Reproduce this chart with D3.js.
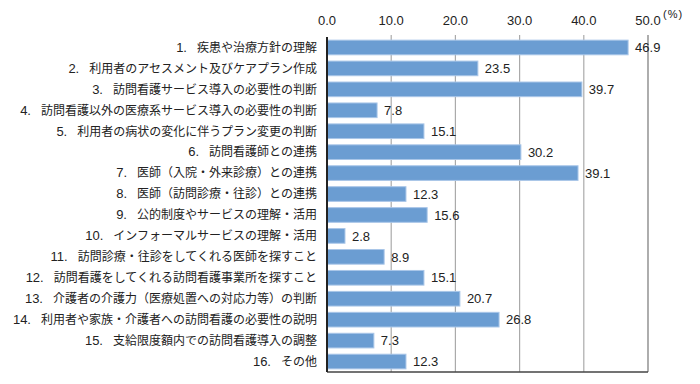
<!DOCTYPE html>
<html>
<head>
<meta charset="utf-8">
<script src="https://cdn.jsdelivr.net/npm/d3@7"></script>
<style>
	body { margin: 0; background: #fff; }
	text { font-family: "Liberation Sans", "Noto Sans CJK JP", sans-serif; fill: #222; }
</style>
</head>
<body>
<div id="chart"></div>
<script>
const categories = [
	'1. 疾患や治療方針の理解',
	'2. 利用者のアセスメント及びケアプラン作成',
	'3. 訪問看護サービス導入の必要性の判断',
	'4. 訪問看護以外の医療系サービス導入の必要性の判断',
	'5. 利用者の病状の変化に伴うプラン変更の判断',
	'6. 訪問看護師との連携',
	'7. 医師（入院・外来診療）との連携',
	'8. 医師（訪問診療・往診）との連携',
	'9. 公的制度やサービスの理解・活用',
	'10. インフォーマルサービスの理解・活用',
	'11. 訪問診療・往診をしてくれる医師を探すこと',
	'12. 訪問看護をしてくれる訪問看護事業所を探すこと',
	'13. 介護者の介護力（医療処置への対応力等）の判断',
	'14. 利用者や家族・介護者への訪問看護の必要性の説明',
	'15. 支給限度額内での訪問看護導入の調整',
	'16. その他'
]
const values = [46.9, 23.5, 39.7, 7.8, 15.1, 30.2, 39.1, 12.3, 15.6, 2.8, 8.9, 15.1, 20.7, 26.8, 7.3, 12.3]
const ticks = [0, 10, 20, 30, 40, 50]

const width = 700
const height = 384
const margin = { top: 37, left: 327, right: 52, bottom: 12 }
const chartWidth = width - margin.left - margin.right
const chartHeight = height - margin.top - margin.bottom

const svg = d3.select('#chart')
	.append('svg')
	.attr('width', width)
	.attr('height', height)

const chart = svg.append('g')
	.attr('transform', `translate(${margin.left},${margin.top})`)

const x = d3.scaleLinear().domain([0, 50]).range([0, chartWidth])
const y = d3.scaleBand().domain(categories).range([0, chartHeight]).paddingInner(0.3).paddingOuter(0.15)

// gridlines
chart.selectAll('.grid')
	.data(ticks.slice(1))
	.enter()
	.append('line')
	.attr('class', 'grid')
	.attr('x1', d => x(d))
	.attr('x2', d => x(d))
	.attr('y1', -2)
	.attr('y2', chartHeight)
	.attr('stroke', d => d === 50 ? '#777' : '#aaa')
	.attr('stroke-width', 1.2)

// tick labels
chart.selectAll('.tick-label')
	.data(ticks)
	.enter()
	.append('text')
	.attr('class', 'tick-label')
	.attr('x', d => x(d))
	.attr('y', -12)
	.attr('text-anchor', 'middle')
	.attr('font-size', 13)
	.text(d => d.toFixed(1))

chart.append('text')
	.attr('x', x(50) + 15)
	.attr('y', -19)
	.attr('font-size', 11)
	.attr('letter-spacing', 1)
	.text('(%)')

// bars
chart.selectAll('.bar')
	.data(values)
	.enter()
	.append('rect')
	.attr('class', 'bar')
	.attr('x', 0)
	.attr('y', (d, i) => y(categories[i]))
	.attr('width', d => x(d))
	.attr('height', y.bandwidth())
	.attr('fill', '#6b9dd2')
	.attr('stroke', '#a9c6e8')
	.attr('stroke-width', 1)

// value labels
chart.selectAll('.value')
	.data(values)
	.enter()
	.append('text')
	.attr('class', 'value')
	.attr('x', d => x(d) + 7)
	.attr('y', (d, i) => y(categories[i]) + y.bandwidth() / 2)
	.attr('dy', '0.36em')
	.attr('font-size', 13)
	.text(d => d.toFixed(1))

// category labels: number, then a wider gap, then the text
const cats = chart.selectAll('.cat')
	.data(categories)
	.enter()
	.append('text')
	.attr('class', 'cat')
	.attr('x', -10)
	.attr('y', d => y(d) + y.bandwidth() / 2)
	.attr('dy', '0.36em')
	.attr('text-anchor', 'end')
	.attr('font-size', 12)

cats.append('tspan')
	.attr('font-size', 13)
	.text(d => d.split(' ')[0])
cats.append('tspan')
	.attr('dx', 10)
	.text(d => d.split(' ').slice(1).join(' '))

// frame
chart.append('line')
	.attr('x1', 0).attr('x2', chartWidth)
	.attr('y1', chartHeight).attr('y2', chartHeight)
	.attr('stroke', '#444').attr('stroke-width', 1.5)
chart.append('line')
	.attr('x1', 0).attr('x2', 0)
	.attr('y1', 0).attr('y2', chartHeight)
	.attr('stroke', '#222').attr('stroke-width', 2)
</script>
</body>
</html>
